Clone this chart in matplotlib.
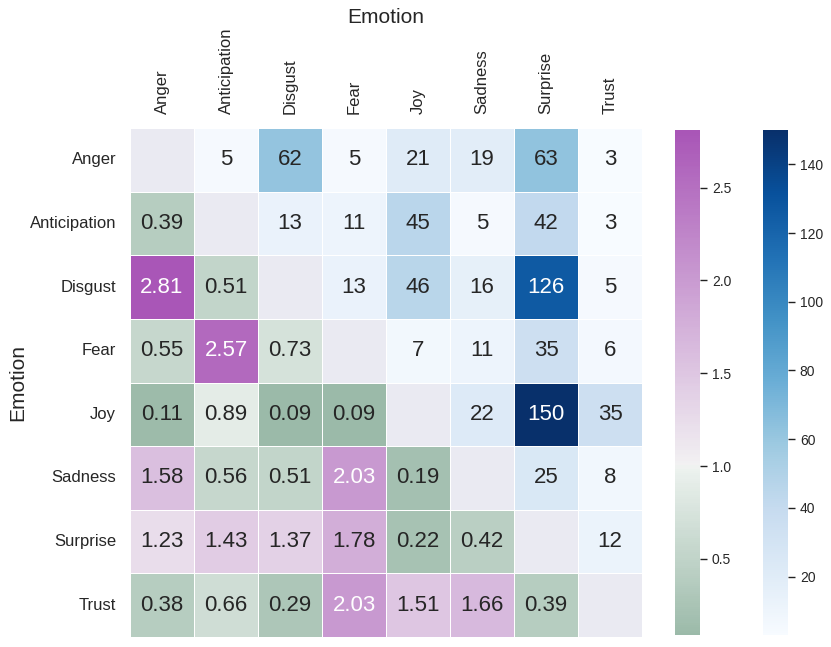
import numpy as np
import matplotlib
matplotlib.use("Agg")
import matplotlib.pyplot as plt
import seaborn as sns

sns.set_theme(style="darkgrid")
plt.rcParams['font.family'] = ['Liberation Sans', 'DejaVu Sans']

emotions = ['Anger', 'Anticipation', 'Disgust', 'Fear', 'Joy', 'Sadness', 'Surprise', 'Trust']

# conteos (triangulo superior)
counts = np.array([
    [np.nan, 5, 62, 5, 21, 19, 63, 3],
    [np.nan, np.nan, 13, 11, 45, 5, 42, 3],
    [np.nan, np.nan, np.nan, 13, 46, 16, 126, 5],
    [np.nan, np.nan, np.nan, np.nan, 7, 11, 35, 6],
    [np.nan, np.nan, np.nan, np.nan, np.nan, 22, 150, 35],
    [np.nan, np.nan, np.nan, np.nan, np.nan, np.nan, 25, 8],
    [np.nan, np.nan, np.nan, np.nan, np.nan, np.nan, np.nan, 12],
    [np.nan] * 8,
])

# razones (triangulo inferior)
ratios = np.array([
    [np.nan] * 8,
    [0.39] + [np.nan] * 7,
    [2.81, 0.51] + [np.nan] * 6,
    [0.55, 2.57, 0.73] + [np.nan] * 5,
    [0.11, 0.89, 0.09, 0.09] + [np.nan] * 4,
    [1.58, 0.56, 0.51, 2.03, 0.19] + [np.nan] * 3,
    [1.23, 1.43, 1.37, 1.78, 0.22, 0.42] + [np.nan] * 2,
    [0.38, 0.66, 0.29, 2.03, 1.51, 1.66, 0.39, np.nan],
])

fig = plt.figure(figsize=(8.31, 6.47), dpi=100)
ax = fig.add_axes([130 / 831, 1 - 637 / 647, 512 / 831, 509 / 647])
cax1 = fig.add_axes([675 / 831, 1 - 635 / 647, 25 / 831, 505 / 647])
cax2 = fig.add_axes([763 / 831, 1 - 635 / 647, 25 / 831, 505 / 647])

ax.set_facecolor('#EAEAF2')
div_cmap = sns.diverging_palette(145, 300, s=60, as_cmap=True)

sns.heatmap(ratios, ax=ax, cmap=div_cmap, center=1, annot=True, fmt='.2f',
            annot_kws={'size': 16}, linewidths=0.6, linecolor='white',
            cbar_ax=cax1)
sns.heatmap(counts, ax=ax, cmap='Blues', annot=True, fmt='.0f',
            annot_kws={'size': 16}, linewidths=0.6, linecolor='white',
            cbar_ax=cax2)
ax.grid(False)

ax.xaxis.tick_top()
ax.xaxis.set_label_position('top')
ax.set_xticklabels(emotions, rotation=90, fontsize=12)
ax.set_yticklabels(emotions, rotation=0, fontsize=12)
ax.tick_params(length=0, pad=10)
ax.set_xlabel('Emotion', fontsize=15, labelpad=3)
ax.set_ylabel('Emotion', fontsize=15, labelpad=2)

for c in (cax1, cax2):
    c.tick_params(labelsize=10, length=5, width=1, color='#222222', right=True)
    for s in c.spines.values():
        s.set_visible(False)

fig.savefig('out.png', dpi=100)
